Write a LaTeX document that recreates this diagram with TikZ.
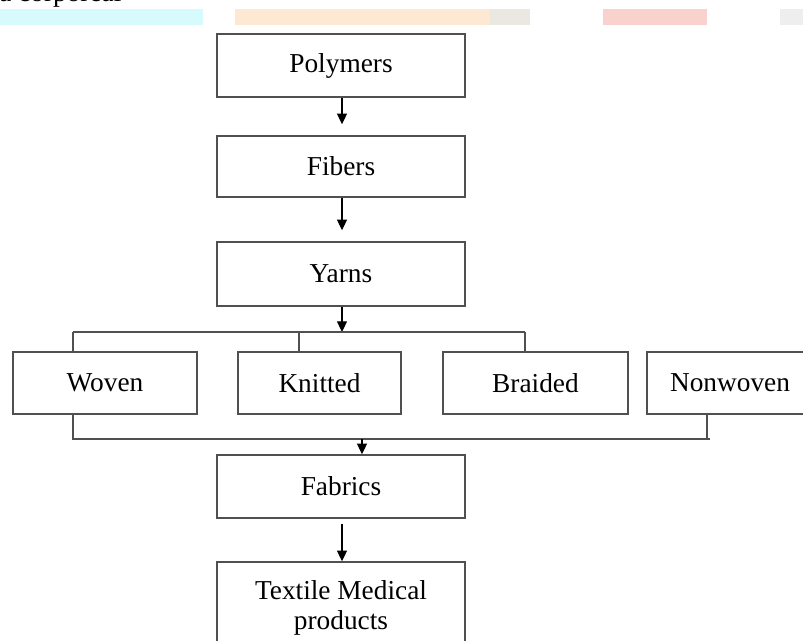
\documentclass[tikz,border=0pt]{standalone}
\usepackage{fontspec}
\setmainfont{Liberation Serif}
\usetikzlibrary{arrows.meta}
\tikzset{
  flowbox/.style={draw={rgb,255:red,80;green,80;blue,80},line width=1.1pt,inner sep=0pt,
    minimum height=63*0.75pt,font=\fontsize{20.5}{24}\selectfont,align=center},
  flowarrow/.style={-{Triangle[length=8pt,width=7.5pt]},line width=0.8pt},
  joinline/.style={draw={rgb,255:red,80;green,80;blue,80},line width=1.1pt}
}
\begin{document}
\begin{tikzpicture}[x=0.75pt,y=0.75pt,yscale=-1,xscale=1]
\useasboundingbox (0,0) rectangle (803,641);

%Shape: watermark band
\fill [color={rgb, 255:red, 215; green, 250; blue, 252 }] (0,9) rectangle (203,25) ;
\fill [color={rgb, 255:red, 253; green, 232; blue, 212 }] (235,9) rectangle (490,25) ;
\fill [color={rgb, 255:red, 235; green, 232; blue, 226 }] (490,9) rectangle (530,25) ;
\fill [color={rgb, 255:red, 250; green, 210; blue, 205 }] (603,9) rectangle (707,25) ;
\fill [color={rgb, 255:red, 238; green, 238; blue, 238 }] (780,9) rectangle (803,25) ;

% Text Node
\node (topline) [anchor=base west, inner sep=0pt, font=\fontsize{20.5}{24}\selectfont] at (-1,2) {a corporeal};

% Boxes
\node (polymers) [flowbox, minimum width=248*0.75pt] at (341,65.5) {Polymers};
\node (fibers) [flowbox, minimum width=248*0.75pt, minimum height=61*0.75pt] at (341,166.5) {Fibers};
\node (yarns) [flowbox, minimum width=248*0.75pt, minimum height=64*0.75pt] at (341,274) {Yarns};
\node (woven) [flowbox, minimum width=184*0.75pt, minimum height=62*0.75pt] at (105,383) {Woven};
\node (knitted) [flowbox, minimum width=163*0.75pt, minimum height=62*0.75pt] at (319.5,383) {Knitted};
\node (braided) [flowbox, minimum width=185*0.75pt, minimum height=62*0.75pt] at (535.5,383) {Braided};
\node (nonwoven) [flowbox, minimum width=166*0.75pt, minimum height=62*0.75pt] at (730,383) {Nonwoven};
\node (fabrics) [flowbox, minimum width=248*0.75pt] at (341,486.5) {Fabrics};
\node (medical) [flowbox, minimum width=248*0.75pt, minimum height=86*0.75pt, text depth=0pt] at (341,605) {Textile Medical\\[-1pt]products};

% Junction points
\coordinate (splitw) at (73,332);
\coordinate (splitk) at (299,332);
\coordinate (splitm) at (342,332);
\coordinate (splitb) at (525,332);
\coordinate (mergew) at (73,439);
\coordinate (mergen) at (707,439);
\coordinate (mergee) at (710,439);
\coordinate (mergem) at (362,439);

%Straight Lines
\draw [flowarrow, shorten >=11*0.75pt] (polymers.south -| splitm) -- (fibers.north -| splitm) ;
\draw [flowarrow, shorten >=11*0.75pt] (fibers.south -| splitm) -- (yarns.north -| splitm) ;
\draw [flowarrow] (yarns.south -| splitm) -- (splitm) ;
\draw [joinline] (splitw) -- (splitb) ;
\draw [joinline] (splitw) -- (splitw |- woven.north) ;
\draw [joinline] (splitk) -- (splitk |- knitted.north) ;
\draw [joinline] (splitb) -- (splitb |- braided.north) ;
\draw [joinline] (mergew |- woven.south) -- (mergew) -- (mergee) ;
\draw [joinline] (mergen |- nonwoven.south) -- (mergen) ;
\draw [flowarrow] (mergem) -- (mergem |- fabrics.north) ;
\draw [flowarrow, shorten <=5*0.75pt] (fabrics.south -| splitm) -- (medical.north -| splitm) ;

\end{tikzpicture}
\end{document}
